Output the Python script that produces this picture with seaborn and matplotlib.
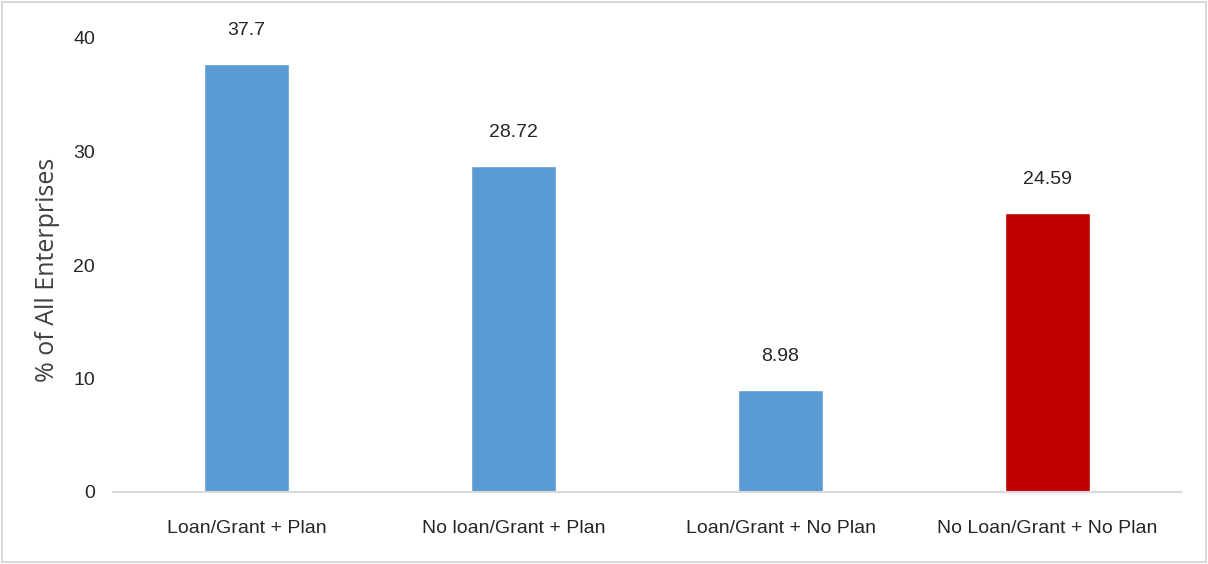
import matplotlib
matplotlib.use("Agg")
import matplotlib.pyplot as plt
import seaborn as sns
import pandas as pd

categories = ["Loan/Grant + Plan", "No loan/Grant + Plan",
              "Loan/Grant + No Plan", "No Loan/Grant + No Plan"]
values = [37.7, 28.72, 8.98, 24.59]
value_labels = ["37.7", "28.72", "8.98", "24.59"]
bar_colors = ["#5B9BD5", "#5B9BD5", "#5B9BD5", "#C00000"]
y_ticks = [0, 10, 20, 30, 40]

sns.set_theme(style="white")
narrow = ["Liberation Sans Narrow", "Liberation Sans", "DejaVu Sans"]
plt.rcParams["font.family"] = narrow
text_color = "#262626"

df = pd.DataFrame({"category": categories, "value": values})

fig = plt.figure(figsize=(12.08, 5.64), dpi=100)
ax = fig.add_axes([113 / 1208, 1 - 492 / 564, 1068 / 1208, (492 - 38) / 564])

sns.barplot(data=df, x="category", y="value", hue="category",
            palette=bar_colors, width=0.318, saturation=1,
            legend=False, ax=ax)

ax.set_xlim(-0.5, 3.5)
ax.set_ylim(0, 40)
ax.set_yticks(y_ticks)
ax.set_yticklabels([str(t) for t in y_ticks])

for i, (v, lab) in enumerate(zip(values, value_labels)):
    ax.annotate(lab, xy=(i, v), xytext=(0, 24), textcoords="offset points",
                ha="center", va="center", fontsize=14, color=text_color,
                annotation_clip=False)

for side in ("top", "right", "left"):
    ax.spines[side].set_visible(False)
ax.spines["bottom"].set_color("#D9D9D9")
ax.spines["bottom"].set_linewidth(1.5)

ax.tick_params(axis="both", length=0, labelsize=14, colors=text_color)
ax.tick_params(axis="y", pad=13)
ax.tick_params(axis="x", pad=20)
ax.set_xlabel("")
ax.set_ylabel("% of All Enterprises", fontsize=18, color="#404040",
              family=["Open Sans", "DejaVu Sans"])
ax.yaxis.set_label_coords(-0.05, 0.49)

# Light frame around the whole figure
fig.patches.append(plt.Rectangle((2 / 1208, 2 / 564), 1 - 4 / 1208, 1 - 4 / 564,
                                 transform=fig.transFigure, fill=False,
                                 edgecolor="#D9D9D9", linewidth=1.5))

fig.savefig("out.png", dpi=100)
